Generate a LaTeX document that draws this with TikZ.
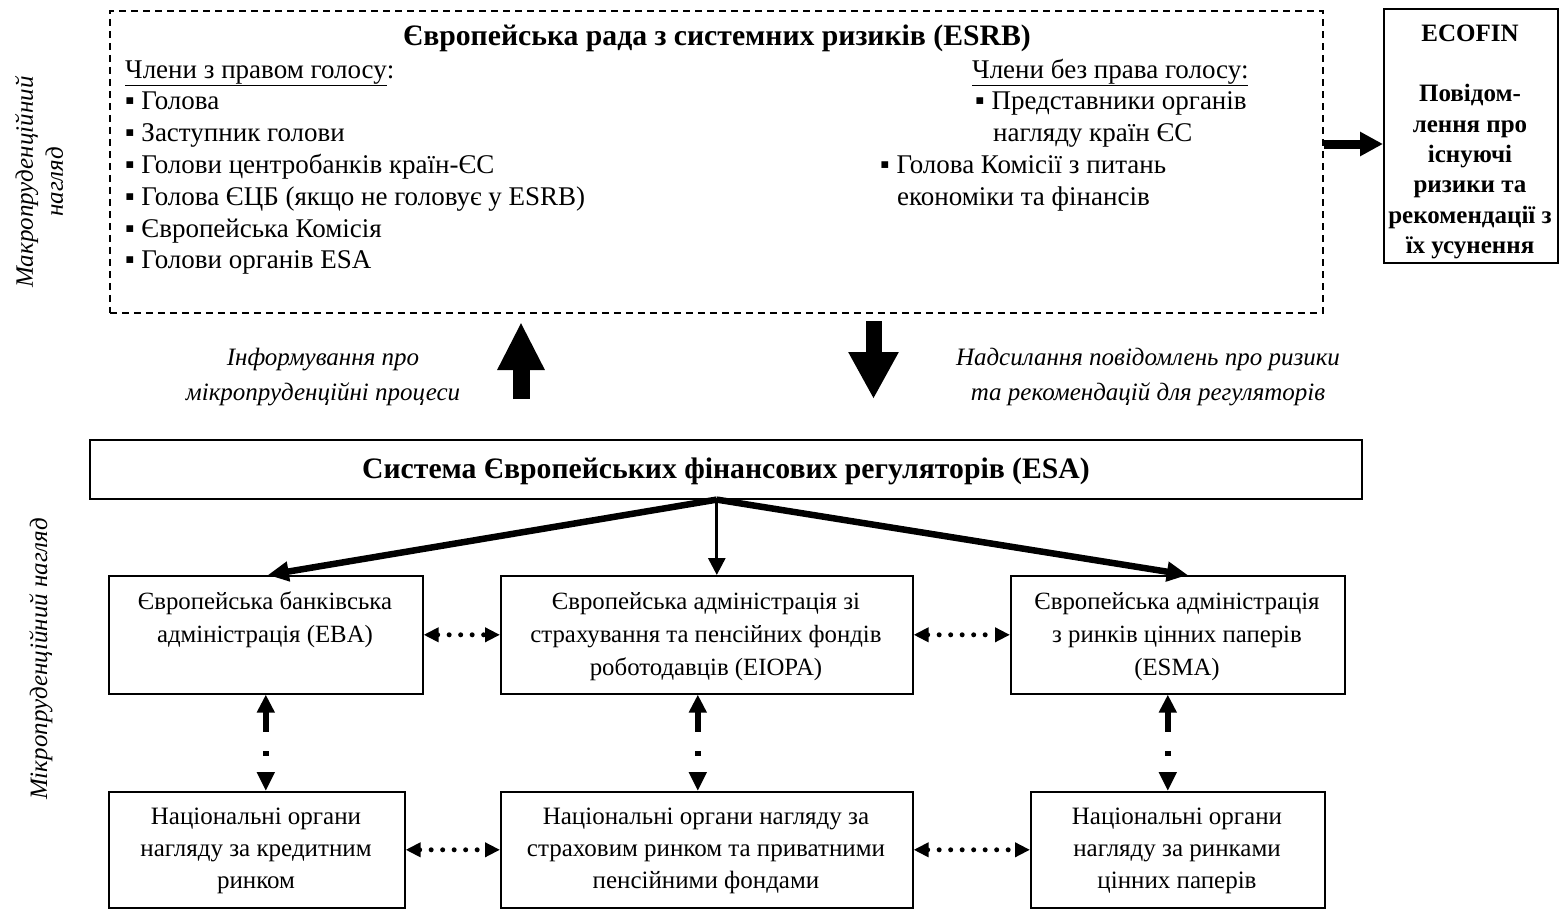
\documentclass[tikz,border=0pt]{standalone}
\usepackage{fontspec}
\setmainfont{Liberation Serif}
\usetikzlibrary{arrows.meta}
\newcommand{\fntbody}{\fontsize{27}{31.8}\selectfont}
\newcommand{\fnttitle}{\fontsize{29.7}{34}\selectfont\bfseries}
\newcommand{\fntboxa}{\fontsize{24.8}{33}\selectfont}
\newcommand{\fntboxb}{\fontsize{25}{32}\selectfont}
\newcommand{\fntit}{\fontsize{25}{35}\selectfont\itshape}
\newcommand{\fnteco}{\fontsize{25}{30.4}\selectfont\bfseries}
\tikzset{
  box/.style={draw, line width=1.6pt, rectangle, inner sep=0pt, anchor=north west},
  dbox/.style={box, dash pattern=on 7pt off 5pt},
  txt/.style={inner sep=0pt, anchor=base},
  esaarrow/.style={line width=6.5pt, -{Triangle[length=21pt,width=19pt]}},
  esamid/.style={line width=3pt, -{Triangle[length=17pt,width=17pt]}},
  hdot/.style={line width=5pt, line cap=round, dash pattern=on 0pt off 11.5pt,
    {Triangle[length=15pt,width=14pt]}-{Triangle[length=15pt,width=14pt]}},
  vdot/.style={line width=6pt, dash pattern=on 21pt off 19pt on 5pt off 40pt,
    {Triangle[length=18pt,width=17pt]}-{Triangle[length=19pt,width=17pt]}}
}
\begin{document}
\begin{tikzpicture}[x=1pt,y=-1pt]
\useasboundingbox (0,0) rectangle (1564,910);

% side labels
\node[font=\fontsize{25}{30}\selectfont\itshape, rotate=90, align=center, inner sep=0pt] (macro) at (39,182) {Макропруденційний\\нагляд};
\node[font=\fntit, rotate=90, inner sep=0pt] (micro) at (41,659) {Мікропруденційний нагляд};

% ESRB
\node[dbox, minimum width=1213pt, minimum height=302pt] (esrb) at (109,10) {};
\node[txt, font=\fnttitle] (esrbt) at (717,45) {Європейська рада з системних ризиків (ESRB)};
\node[txt, anchor=base west, font=\fntbody] (vote) at (125,78) {\parbox[t]{520pt}{\raggedright
  \underline{Члени з правом голосу}:\\
  ▪ Голова\\
  ▪ Заступник голови\\
  ▪ Голови центробанків країн-ЄС\\
  ▪ Голова ЄЦБ (якщо не головує у ESRB)\\
  ▪ Європейська Комісія\\
  ▪ Голови органів ESA}};
\node[txt, anchor=base west, font=\fntbody] (novote) at (972,78) {\underline{Члени без права голосу:}};
\node[txt, anchor=base west, font=\fntbody] (nv1) at (975,109.8) {\parbox[t]{400pt}{\raggedright
  ▪ Представники органів\\\hspace*{18pt}нагляду країн ЄС}};
\node[txt, anchor=base west, font=\fntbody] (nv2) at (880,173.4) {\parbox[t]{400pt}{\raggedright
  ▪ Голова Комісії з питань\\\hspace*{17pt}економіки та фінансів}};

% ECOFIN
\node[box, line width=2pt, minimum width=174pt, minimum height=254pt] (ecofin) at (1383,8) {};
\node[txt, font=\fnteco] (ecofint) at (1470,41) {\parbox[t]{174pt}{\centering
  ECOFIN\\[30.4pt]Повідом-\\лення про\\існуючі\\ризики та\\рекомендації з\\їх усунення}};
\draw[line width=9pt, -{Triangle[length=23pt,width=23pt]}] (esrb.east |- 0,144) -- (ecofin.west |- 0,144);

% block arrows
\coordinate (upA) at (521,399);
\coordinate (upB) at (521,322);
\coordinate (dnA) at (873.5,321);
\coordinate (dnB) at (873.5,399);
\draw[line width=17pt, -{Triangle[length=48pt,width=44pt]}] (upA) -- (upB);
\draw[line width=16pt, -{Triangle[length=47pt,width=47pt]}] (dnA) -- (dnB);
\node[txt, font=\fntit] (lab1) at (323,365) {\parbox[t]{400pt}{\centering
  Інформування про\\мікропруденційні процеси}};
\node[txt, font=\fntit] (lab2) at (1148,365) {\parbox[t]{450pt}{\centering
  Надсилання повідомлень про ризики\\та рекомендацій для регуляторів}};

% ESA
\node[box, minimum width=1272pt, minimum height=59pt] (esa) at (89,439) {};
\node[txt, font=\fnttitle] (esat) at (726,478) {Система Європейських фінансових регуляторів (ESA)};

% row 1
\node[box, minimum width=314pt, minimum height=118pt] (eba) at (108,575) {};
\node[box, minimum width=412pt, minimum height=118pt] (eiopa) at (500,575) {};
\node[box, minimum width=334pt, minimum height=118pt] (esma) at (1010,575) {};
\node[txt, font=\fntboxa] (ebat) at (265,609) {\parbox[t]{314pt}{\centering
  Європейська банківська\\адміністрація (EBA)}};
\node[txt, font=\fntboxa] (eiopat) at (706,609) {\parbox[t]{412pt}{\centering
  Європейська адміністрація зі\\страхування та пенсійних фондів\\роботодавців (EIOPA)}};
\node[txt, font=\fntboxa] (esmat) at (1177,609) {\parbox[t]{334pt}{\centering
  Європейська адміністрація\\з ринків цінних паперів\\(ESMA)}};

% row 2
\node[box, minimum width=296pt, minimum height=116pt] (nca1) at (108,791) {};
\node[box, minimum width=412pt, minimum height=116pt] (nca2) at (500,791) {};
\node[box, minimum width=294pt, minimum height=116pt] (nca3) at (1030,791) {};
\node[txt, font=\fntboxb] (nca1t) at (256,824) {\parbox[t]{296pt}{\centering
  Національні органи\\нагляду за кредитним\\ринком}};
\node[txt, font=\fntboxb] (nca2t) at (706,824) {\parbox[t]{412pt}{\centering
  Національні органи нагляду за\\страховим ринком та приватними\\пенсійними фондами}};
\node[txt, font=\fntboxb] (nca3t) at (1177,824) {\parbox[t]{294pt}{\centering
  Національні органи\\нагляду за ринками\\цінних паперів}};

% ESA connectors
\coordinate (apex) at ([xshift=-9pt]esa.south);
\draw[esaarrow] (apex) -- ([xshift=2pt]eba.north);
\draw[esamid] (apex) -- (apex |- eiopa.north);
\draw[esaarrow] (apex) -- ([xshift=10pt]esma.north);

% dotted links
\draw[hdot] (eba.east) -- (eiopa.west);
\draw[hdot] (eiopa.east) -- (esma.west);
\draw[hdot] (nca1.east) -- (nca2.west);
\draw[hdot] (nca2.east) -- (nca3.west);
\draw[vdot] (eba.south) -- (eba.south |- nca1.north);
\draw[vdot] ([xshift=-9pt]eiopa.south) -- ([xshift=-9pt]eiopa.south |- nca2.north);
\draw[vdot] ([xshift=-10pt]esma.south) -- ([xshift=-10pt]esma.south |- nca3.north);
\end{tikzpicture}
\end{document}
